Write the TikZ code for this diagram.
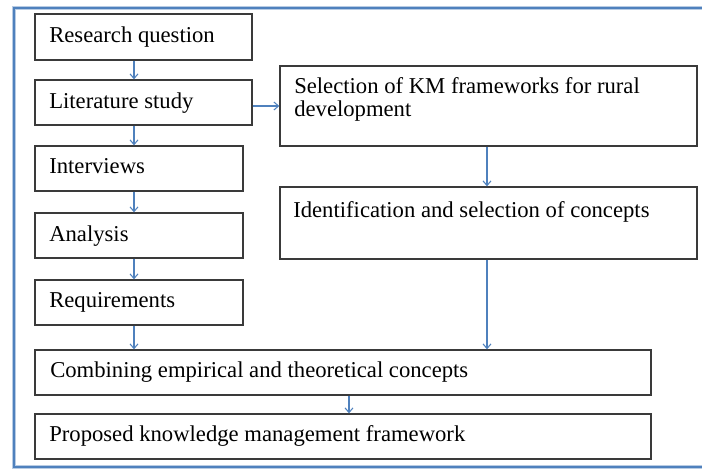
\documentclass[tikz,border=0pt]{standalone}
\usepackage{fontspec}
\setmainfont{Liberation Serif}
\usetikzlibrary{arrows.meta}
\definecolor{frameblue}{HTML}{4F81BD}
\definecolor{framelight}{HTML}{B8CCE4}
\definecolor{boxline}{HTML}{3A3A3A}
\tikzset{
  stagebox/.style={draw=boxline, line width=1.3pt*0.75, rectangle, inner sep=0pt},
  stagetext/.style={anchor=base west, inner sep=0pt, font=\fontsize{17}{17.3}\selectfont, align=left},
  flowarrow/.style={draw=frameblue, line width=0.8pt, -{Straight Barb[length=3.5pt,width=6pt]}},
}
\newcommand{\boxat}[5]{% name, x1, y1, x2, y2
  \node[stagebox, minimum width={(#4-#2)*0.75pt}, minimum height={(#5-#3)*0.75pt}] (#1) at ({(#2+#4)/2},{(#3+#5)/2}) {};}
\begin{document}
\begin{tikzpicture}[x=0.75pt,y=-0.75pt]
\useasboundingbox (0,0) rectangle (702,470);
\begin{scope}
\clip (0,0) rectangle (702,470);
% outer frame (right side beyond the picture)
\draw[framelight, line width=4.5pt*0.75] (720,8) -- (14,8) -- (14,467) -- (720,467);
\draw[frameblue, line width=2.5pt*0.75] (720,8) -- (14,8) -- (14,467) -- (720,467);
\end{scope}
% boxes
\boxat{rq}{35}{14}{252}{60}
\boxat{ls}{35}{80}{252}{125}
\boxat{iv}{35}{146}{243}{191}
\boxat{an}{35}{213}{243}{258}
\boxat{re}{35}{280}{243}{325}
\boxat{se}{280}{66}{697}{146}
\boxat{id}{280}{187}{697}{259}
\boxat{co}{35}{350}{651}{395}
\boxat{pr}{35}{414}{651}{459}
% texts
\node[stagetext] (trq) at (49,43) {Research question};
\node[stagetext] (tls) at (49,109) {Literature study};
\node[stagetext] (tiv) at (49,174) {Interviews};
\node[stagetext] (tan) at (49,241) {Analysis};
\node[stagetext] (tre) at (49,307) {Requirements};
\node[stagetext] (tse) at (294,117) {Selection of KM frameworks for rural\\development};
\node[stagetext] (tid) at (293,218) {Identification and selection of concepts};
\node[stagetext] (tco) at (50,377) {Combining empirical and theoretical concepts};
\node[stagetext] (tpr) at (49,441) {Proposed knowledge management framework};
% guide coordinates
\coordinate (cl) at (134,0);
\coordinate (cr) at (487,0);
\coordinate (cm) at (349,0);
\coordinate (hy) at (0,106);
% connectors
\draw[flowarrow] (rq.south -| cl) -- (ls.north -| cl);
\draw[flowarrow] (ls.south -| cl) -- (iv.north -| cl);
\draw[flowarrow] (iv.south -| cl) -- (an.north -| cl);
\draw[flowarrow] (an.south -| cl) -- (re.north -| cl);
\draw[flowarrow] (re.south -| cl) -- (co.north -| cl);
\draw[flowarrow] (ls.east |- hy) -- (se.west |- hy);
\draw[flowarrow] (se.south -| cr) -- (id.north -| cr);
\draw[flowarrow] (id.south -| cr) -- (co.north -| cr);
\draw[flowarrow] (co.south -| cm) -- (pr.north -| cm);
\end{tikzpicture}
\end{document}
